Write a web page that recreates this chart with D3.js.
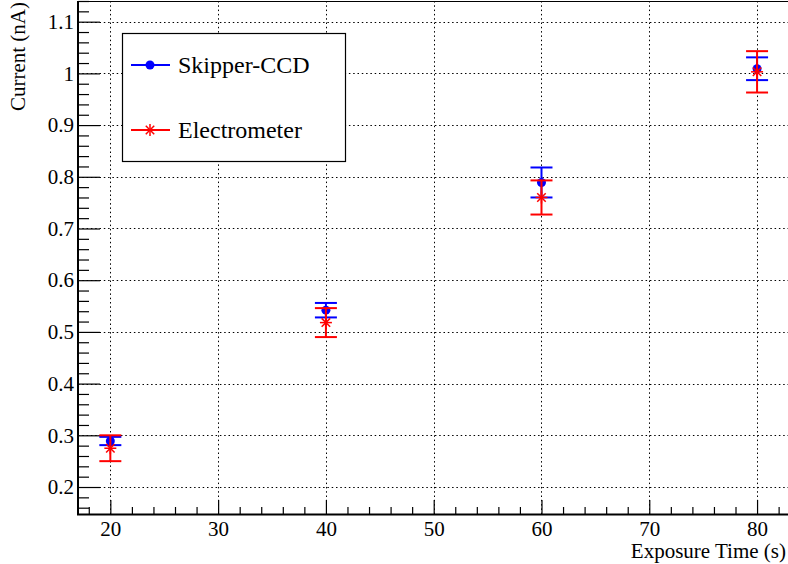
<!DOCTYPE html>
<html>
<head>
<meta charset="utf-8">
<script src="https://cdn.jsdelivr.net/npm/d3@7"></script>
<style>
  body { margin: 0; background: #fff; }
  svg { display: block; }
  svg text { font-family: "Liberation Serif", "Times New Roman", Tinos, "DejaVu Serif", serif; }
</style>
</head>
<body>
<div id="chart"></div>
<script>
// Data
const exposureTimes = [20, 40, 60, 80];
const ccdCurrent = [0.289, 0.542, 0.789, 1.009];
const ccdError = [0.008, 0.014, 0.029, 0.022];
const elecCurrent = [0.275, 0.518, 0.760, 1.003];
const elecError = [0.025, 0.028, 0.033, 0.040];

const xTickValues = [20, 30, 40, 50, 60, 70, 80];
const xTickLabels = ["20", "30", "40", "50", "60", "70", "80"];
const yTickValues = [0.2, 0.3, 0.4, 0.5, 0.6, 0.7, 0.8, 0.9, 1.0, 1.1];
const yTickLabels = ["0.2", "0.3", "0.4", "0.5", "0.6", "0.7", "0.8", "0.9", "1", "1.1"];
const seriesNames = ["Skipper-CCD", "Electrometer"];

const width = 788, height = 564;
const fontFamily = "Liberation Serif, Times New Roman, Tinos, DejaVu Serif, serif";

const svg = d3.select("#chart")
  .append("svg")
    .attr("width", width)
    .attr("height", height);

// Scales (frame runs from x=78 to past the right edge, y=1 to 514)
const xScale = d3.scaleLinear()
  .domain([17, 83])
  .range([78, 789.4]);
const yScale = d3.scaleLinear()
  .domain([0.1478, 1.140])
  .range([514, 1]);

// Grid lines (dotted)
const grid = svg.append("g");
grid.selectAll("line.gx")
  .data(xTickValues)
  .join("line")
    .attr("x1", d => Math.round(xScale(d)) + 0.5)
    .attr("x2", d => Math.round(xScale(d)) + 0.5)
    .attr("y1", 1)
    .attr("y2", 514)
    .attr("stroke", "black")
    .attr("stroke-dasharray", "1.5,2.8");
grid.selectAll("line.gy")
  .data(yTickValues)
  .join("line")
    .attr("x1", 78)
    .attr("x2", width)
    .attr("y1", d => Math.round(yScale(d)) + 0.5)
    .attr("y2", d => Math.round(yScale(d)) + 0.5)
    .attr("stroke", "black")
    .attr("stroke-dasharray", "1.5,2.8");

// Minor ticks
const xMinor = d3.range(18, 83, 2).filter(d => d % 10 !== 0);
const yMinor = d3.range(16, 115, 2).map(d => d / 100).filter(d => Math.round(d * 100) % 10 !== 0);

svg.append("g")
  .attr("transform", "translate(0,514)")
  .call(d3.axisBottom(xScale).tickValues(xMinor).tickSize(-7).tickFormat("").tickSizeOuter(0))
  .call(g => g.select(".domain").remove());
svg.append("g")
  .attr("transform", "translate(78,0)")
  .call(d3.axisLeft(yScale).tickValues(yMinor).tickSize(-11).tickFormat("").tickSizeOuter(0))
  .call(g => g.select(".domain").remove());

// Major ticks with labels
const xAxis = svg.append("g")
  .attr("transform", "translate(0,514)")
  .call(d3.axisBottom(xScale)
    .tickValues(xTickValues)
    .tickSize(-14)
    .tickSizeOuter(0)
    .tickPadding(-6)
    .tickFormat((d, i) => xTickLabels[i]));
xAxis.attr("font-family", fontFamily);
xAxis.selectAll("text")
  .attr("dy", "1.33em")
  .attr("font-size", 21)
  .attr("fill", "black");

const yAxis = svg.append("g")
  .attr("transform", "translate(78,0)")
  .call(d3.axisLeft(yScale)
    .tickValues(yTickValues)
    .tickSize(-22)
    .tickSizeOuter(0)
    .tickFormat((d, i) => yTickLabels[i]));
yAxis.attr("font-family", fontFamily);
yAxis.selectAll("text")
  .attr("x", -4)
  .attr("font-size", 21)
  .attr("fill", "black");

svg.selectAll(".domain").remove();
svg.selectAll(".tick line").attr("stroke-width", 1.2);

// Frame
svg.append("path")
  .attr("d", "M78,1 V514.5 H788")
  .attr("fill", "none")
  .attr("stroke", "black")
  .attr("stroke-width", 2);
svg.append("line")
  .attr("x1", 78).attr("x2", width)
  .attr("y1", 1.5).attr("y2", 1.5)
  .attr("stroke", "black")
  .attr("stroke-width", 1);

// Error bars and markers
function drawSeries(values, errors, color, markerFn) {
  const g = svg.append("g");
  const data = exposureTimes.map((t, i) => ({ t, v: values[i], e: errors[i] }));
  g.selectAll("line.bar")
    .data(data)
    .join("line")
      .attr("x1", d => xScale(d.t))
      .attr("x2", d => xScale(d.t))
      .attr("y1", d => yScale(d.v + d.e))
      .attr("y2", d => yScale(d.v - d.e))
      .attr("stroke", color)
      .attr("stroke-width", 2);
  [1, -1].forEach(s => {
    g.selectAll(null)
      .data(data)
      .join("line")
        .attr("x1", d => xScale(d.t) - 11)
        .attr("x2", d => xScale(d.t) + 11)
        .attr("y1", d => yScale(d.v + s * d.e))
        .attr("y2", d => yScale(d.v + s * d.e))
        .attr("stroke", color)
        .attr("stroke-width", 2);
  });
  data.forEach(d => markerFn(g, xScale(d.t), yScale(d.v), color));
}

function circleMarker(g, x, y, color) {
  g.append("circle")
    .attr("cx", x).attr("cy", y).attr("r", 4.5)
    .attr("fill", color);
}

function starMarker(g, x, y, color) {
  const r = 6;
  [0, 45, 90, 135].forEach(a => {
    const rad = a * Math.PI / 180;
    g.append("line")
      .attr("x1", x - r * Math.cos(rad)).attr("y1", y - r * Math.sin(rad))
      .attr("x2", x + r * Math.cos(rad)).attr("y2", y + r * Math.sin(rad))
      .attr("stroke", color)
      .attr("stroke-width", 1.5);
  });
}

drawSeries(ccdCurrent, ccdError, "#0000ff", circleMarker);
drawSeries(elecCurrent, elecError, "#ff0000", starMarker);

// Legend
const legend = svg.append("g");
legend.append("rect")
  .attr("x", 122.5).attr("y", 33.5)
  .attr("width", 223).attr("height", 128)
  .attr("fill", "white")
  .attr("stroke", "black")
  .attr("stroke-width", 1.2);

const legendRows = [
  { name: seriesNames[0], color: "#0000ff", marker: circleMarker, y: 65 },
  { name: seriesNames[1], color: "#ff0000", marker: starMarker, y: 130 }
];
legendRows.forEach(row => {
  legend.append("line")
    .attr("x1", 131).attr("x2", 170)
    .attr("y1", row.y).attr("y2", row.y)
    .attr("stroke", row.color)
    .attr("stroke-width", 2);
  row.marker(legend, 150, row.y, row.color);
  legend.append("text")
    .attr("x", 178)
    .attr("y", row.y)
    .attr("dy", "0.35em")
    .attr("font-family", fontFamily)
    .attr("font-size", 24)
    .text(row.name);
});

// Axis titles
svg.append("text")
  .attr("x", 786)
  .attr("y", 558)
  .attr("text-anchor", "end")
  .attr("font-family", fontFamily)
  .attr("font-size", 21)
  .text("Exposure Time (s)");

svg.append("text")
  .attr("transform", "translate(25,2) rotate(-90)")
  .attr("text-anchor", "end")
  .attr("font-family", fontFamily)
  .attr("font-size", 21)
  .text("Current (nA)");
</script>
</body>
</html>
